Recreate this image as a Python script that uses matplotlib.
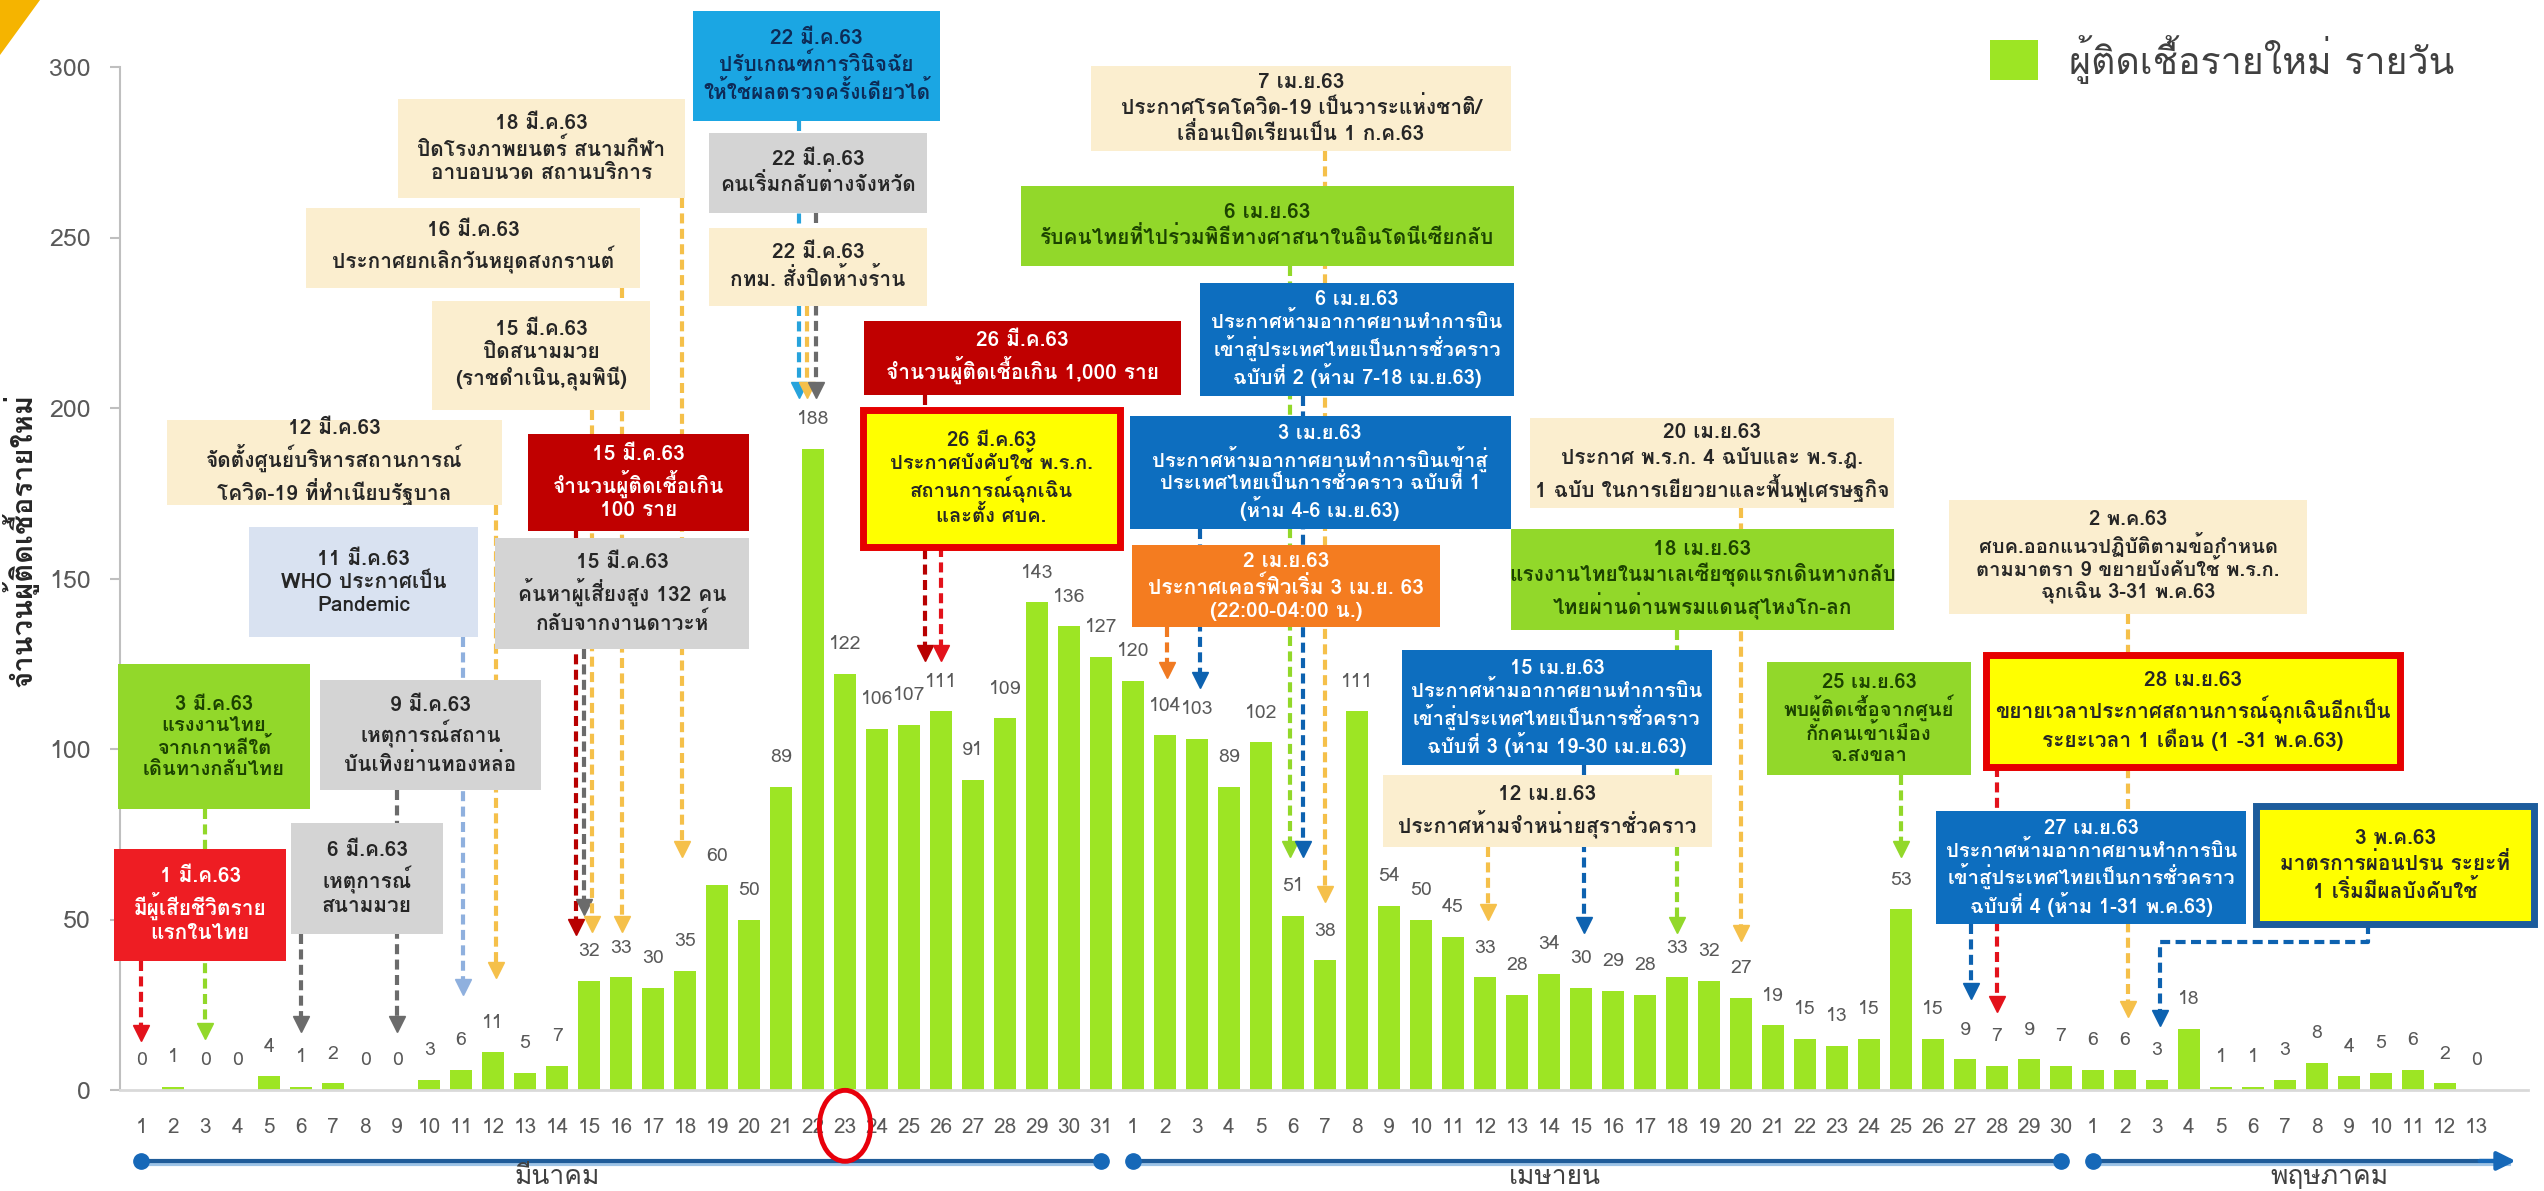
import matplotlib
matplotlib.use("Agg")
import matplotlib.pyplot as plt
from matplotlib import font_manager as fm
from matplotlib.patches import Rectangle, Ellipse, Polygon
from fontTools.ttLib import TTFont

# new cases per day, 1 Mar - 13 May 2020
mar_cases = [0, 1, 0, 0, 4, 1, 2, 0, 0, 3, 6, 11, 5, 7, 32, 33, 30, 35, 60, 50,
             89, 188, 122, 106, 107, 111, 91, 109, 143, 136, 127]
apr_cases = [120, 104, 103, 89, 102, 51, 38, 111, 54, 50, 45, 33, 28, 34, 30,
             29, 28, 33, 32, 27, 19, 15, 13, 15, 53, 15, 9, 7, 9, 7]
may_cases = [6, 6, 3, 18, 1, 1, 3, 8, 4, 5, 6, 2, 0]

months = ["มีนาคม", "เมษายน", "พฤษภาคม"]
legend_label = "ผู้ติดเชื้อรายใหม่ รายวัน"
y_label = "จำนวนผู้ติดเชื้อรายใหม่"
y_ticks = [0, 50, 100, 150, 200, 250, 300]

notes = [
    "1 มี.ค.63\nมีผู้เสียชีวิตราย\nแรกในไทย",
    "3 มี.ค.63\nแรงงานไทย\nจากเกาหลีใต้\nเดินทางกลับไทย",
    "6 มี.ค.63\nเหตุการณ์\nสนามมวย",
    "9 มี.ค.63\nเหตุการณ์สถาน\nบันเทิงย่านทองหล่อ",
    "11 มี.ค.63\nWHO ประกาศเป็น\nPandemic",
    "12 มี.ค.63\nจัดตั้งศูนย์บริหารสถานการณ์\nโควิด-19 ที่ทำเนียบรัฐบาล",
    "15 มี.ค.63\nจำนวนผู้ติดเชื้อเกิน\n100 ราย",
    "15 มี.ค.63\nค้นหาผู้เสี่ยงสูง 132 คน\nกลับจากงานดาวะห์",
    "15 มี.ค.63\nปิดสนามมวย\n(ราชดำเนิน,ลุมพินี)",
    "16 มี.ค.63\nประกาศยกเลิกวันหยุดสงกรานต์",
    "18 มี.ค.63\nปิดโรงภาพยนตร์ สนามกีฬา\nอาบอบนวด สถานบริการ",
    "22 มี.ค.63\nปรับเกณฑ์การวินิจฉัย\nให้ใช้ผลตรวจครั้งเดียวได้",
    "22 มี.ค.63\nคนเริ่มกลับต่างจังหวัด",
    "22 มี.ค.63\nกทม. สั่งปิดห้างร้าน",
    "26 มี.ค.63\nจำนวนผู้ติดเชื้อเกิน 1,000 ราย",
    "26 มี.ค.63\nประกาศบังคับใช้ พ.ร.ก.\nสถานการณ์ฉุกเฉิน\nและตั้ง ศบค.",
    "7 เม.ย.63\nประกาศโรคโควิด-19 เป็นวาระแห่งชาติ/\nเลื่อนเปิดเรียนเป็น 1 ก.ค.63",
    "6 เม.ย.63\nรับคนไทยที่ไปร่วมพิธีทางศาสนาในอินโดนีเซียกลับ",
    "6 เม.ย.63\nประกาศห้ามอากาศยานทำการบิน\nเข้าสู่ประเทศไทยเป็นการชั่วคราว\nฉบับที่ 2 (ห้าม 7-18 เม.ย.63)",
    "3 เม.ย.63\nประกาศห้ามอากาศยานทำการบินเข้าสู่\nประเทศไทยเป็นการชั่วคราว ฉบับที่ 1\n(ห้าม 4-6 เม.ย.63)",
    "2 เม.ย.63\nประกาศเคอร์ฟิวเริ่ม 3 เม.ย. 63\n(22:00-04:00 น.)",
    "20 เม.ย.63\nประกาศ พ.ร.ก. 4 ฉบับและ พ.ร.ฎ.\n1 ฉบับ ในการเยียวยาและฟื้นฟูเศรษฐกิจ",
    "18 เม.ย.63\nแรงงานไทยในมาเลเซียชุดแรกเดินทางกลับ\nไทยผ่านด่านพรมแดนสุไหงโก-ลก",
    "15 เม.ย.63\nประกาศห้ามอากาศยานทำการบิน\nเข้าสู่ประเทศไทยเป็นการชั่วคราว\nฉบับที่ 3 (ห้าม 19-30 เม.ย.63)",
    "12 เม.ย.63\nประกาศห้ามจำหน่ายสุราชั่วคราว",
    "25 เม.ย.63\nพบผู้ติดเชื้อจากศูนย์\nกักคนเข้าเมือง\nจ.สงขลา",
    "28 เม.ย.63\nขยายเวลาประกาศสถานการณ์ฉุกเฉินอีกเป็น\nระยะเวลา 1 เดือน (1 -31 พ.ค.63)",
    "2 พ.ค.63\nศบค.ออกแนวปฏิบัติตามข้อกำหนด\nตามมาตรา 9 ขยายบังคับใช้ พ.ร.ก.\nฉุกเฉิน 3-31 พ.ค.63",
    "27 เม.ย.63\nประกาศห้ามอากาศยานทำการบิน\nเข้าสู่ประเทศไทยเป็นการชั่วคราว\nฉบับที่ 4 (ห้าม 1-31 พ.ค.63)",
    "3 พ.ค.63\nมาตรการผ่อนปรน ระยะที่\n1 เริ่มมีผลบังคับใช้",
]

# box layout for each note: x0, x1, y0, y1, style
boxes = [
    (-0.84, 4.53, 37.8, 70.6, "red"),
    (-0.72, 5.28, 82.3, 124.8, "green"),
    (4.69, 9.44, 45.7, 78.2, "gray"),
    (5.59, 12.5, 87.9, 120.1, "gray"),
    (3.38, 10.53, 132.7, 165, "lblue"),
    (0.81, 11.28, 171.7, 196.6, "beige"),
    (12.1, 19.0, 163.8, 192.5, "dred"),
    (11.06, 19.0, 129.2, 162, "gray"),
    (9.1, 15.9, 199.5, 231.4, "beige"),
    (5.16, 15.6, 235.3, 258.7, "beige"),
    (8.03, 17.0, 261.6, 290.6, "beige"),
    (17.25, 24.97, 284.2, 316.4, "cyan"),
    (17.75, 24.56, 257.3, 280.7, "gray"),
    (17.75, 24.56, 230, 252.9, "beige"),
    (22.6, 32.5, 203.9, 225.6, "dred"),
    (22.56, 30.6, 159.1, 199.5, "yred"),
    (29.7, 42.8, 275.4, 300.3, "beige"),
    (27.5, 42.9, 241.7, 265.2, "green"),
    (33.1, 42.9, 203.6, 236.7, "blue"),
    (30.9, 42.8, 164.4, 197.8, "blue"),
    (30.97, 40.6, 135.7, 159.7, "orange"),
    (43.4, 54.8, 170.8, 197.2, "beige"),
    (42.8, 54.8, 134.8, 164.4, "green"),
    (39.4, 49.1, 95.2, 128.9, "blue"),
    (38.8, 49.1, 71.2, 92.3, "beige"),
    (50.8, 57.2, 92.3, 125.4, "green"),
    (57.65, 70.6, 94.6, 127.7, "yred"),
    (56.5, 67.7, 139.5, 172.9, "beige"),
    (56.1, 65.8, 48.6, 81.7, "blue"),
    (66.1, 74.8, 48.6, 83.2, "yblue"),
]

styles = {
    "beige": ("#fbeecf", None, "#262626"),
    "green": ("#92d82a", None, "#1c4300"),
    "gray": ("#d4d4d4", None, "#262626"),
    "lblue": ("#d9e2f1", None, "#262626"),
    "red": ("#ee1d23", None, "white"),
    "dred": ("#c00000", None, "white"),
    "cyan": ("#1ba6e3", None, "#0d2b57"),
    "blue": ("#0d6ebf", None, "white"),
    "orange": ("#f47c20", None, "white"),
    "yred": ("#ffff00", "#e60000", "#262626"),
    "yblue": ("#ffff00", "#1c5c9c", "#262626"),
}

# dashed pointers: x, y start, y tip, colour
pointers = [
    (0, 37.8, 14.4, "#e3121b"),
    (2, 82.3, 15, "#92d82a"),
    (5, 45.7, 17.3, "#6b6b6b"),
    (8, 87.9, 17.3, "#6b6b6b"),
    (10.06, 132.7, 28, "#8fb0de"),
    (11.1, 171.7, 33, "#f5c04a"),
    (13.6, 163.8, 45.7, "#b80000"),
    (13.85, 129.2, 51.6, "#6b6b6b"),
    (14.1, 199.5, 46.6, "#f5c04a"),
    (15.03, 235.3, 46.6, "#f5c04a"),
    (16.9, 261.6, 68.6, "#f5c04a"),
    (20.56, 284.2, 203, "#27a3dc"),
    (20.8, 230, 203, "#f5c04a"),
    (21.1, 257.3, 203, "#6b6b6b"),
    (24.5, 203.9, 126, "#b80000"),
    (25, 159.1, 126, "#e3121b"),
    (37.0, 275.4, 55.4, "#f5c04a"),
    (35.9, 241.7, 68.6, "#92d82a"),
    (36.3, 203.6, 68.6, "#0d62b0"),
    (33.1, 164.4, 118, "#0d62b0"),
    (32.06, 135.7, 121, "#f07a22"),
    (50, 170.8, 43.7, "#f5c04a"),
    (48, 134.8, 46.3, "#92d82a"),
    (45.1, 95.2, 46.3, "#0d62b0"),
    (42.1, 71.2, 50, "#f5c04a"),
    (55, 92.3, 68.6, "#92d82a"),
    (58, 94.6, 22.9, "#e3121b"),
    (62.1, 139.5, 21.7, "#f5c04a"),
    (57.2, 48.6, 26.7, "#0d62b0"),
]


def thai_family():
    found = []
    for f in fm.fontManager.ttflist:
        try:
            cmap = TTFont(f.fname, fontNumber=0, lazy=True).getBestCmap()
        except Exception:
            continue
        if cmap and 0x0E01 in cmap and 0x0E49 in cmap and 0x0031 in cmap:
            found.append(f.name)
    for pref in ["Tahoma", "Loma", "Noto Sans Thai Looped", "Noto Sans Thai", "Garuda", "Sarabun"]:
        if pref in found:
            return pref
    return found[0] if found else None


fam = thai_family()
plt.rcParams["font.family"] = [fam, "DejaVu Sans"] if fam else ["DejaVu Sans"]

cases = mar_cases + apr_cases + may_cases
labels = [str(d + 1) for d in range(len(mar_cases))] + \
         [str(d + 1) for d in range(len(apr_cases))] + \
         [str(d + 1) for d in range(len(may_cases))]
x = list(range(len(cases)))

fig = plt.figure(figsize=(25.44, 11.91), dpi=100)
ax = fig.add_axes([120 / 2544, 101 / 1191, (2528 - 120) / 2544, 1023 / 1191])
ax.bar(x, cases, width=0.68, color="#9de524", zorder=2)
for i, v in zip(x, cases):
    ax.text(i, v + 8.7, str(v), ha="center", va="center", fontsize=14, color="#595959", zorder=2)

ax.set_xlim(-0.66, 74.6)
ax.set_ylim(0, 300)
ax.set_yticks(y_ticks)
ax.set_xticks(x)
ax.set_xticklabels(labels)
for t in ax.get_xticklabels():
    t.set_va("center")
ax.tick_params(axis="x", length=0, pad=27, labelsize=15, labelcolor="#595959")
ax.tick_params(axis="y", length=7, width=1.5, color="#bfbfbf", pad=14, labelsize=18, labelcolor="#595959")
for s in ["top", "right"]:
    ax.spines[s].set_visible(False)
ax.spines["left"].set_color("#bfbfbf")
ax.spines["left"].set_linewidth(1.5)
ax.spines["bottom"].set_color("#d9d9d9")
ax.spines["bottom"].set_linewidth(2)

# dashed pointers from notes to bars
for px, y0, y1, c in pointers:
    ax.plot([px, px], [y0, y1 + 3], ls=(0, (2.4, 1.3)), color=c, lw=3, zorder=3, clip_on=False)
    ax.plot([px], [y1 + 2.2], marker="v", ms=11, color=c, mec=c, zorder=3, clip_on=False)
# elbow pointer for 3 May note
ax.plot([69.6, 69.6, 63.1, 63.1], [48.6, 43.4, 43.4, 21.8], ls=(0, (2.4, 1.3)), color="#0d62b0",
        lw=3, zorder=3, clip_on=False)
ax.plot([63.1], [18.8 + 2.2], marker="v", ms=11, color="#0d62b0", zorder=3, clip_on=False)

# note boxes
for txt, (x0, x1, y0, y1, st) in zip(notes, boxes):
    fc, ec, tc = styles[st]
    ax.add_patch(Rectangle((x0, y0), x1 - x0, y1 - y0, facecolor=fc,
                           edgecolor=ec if ec else "none", lw=5 if ec else 0,
                           zorder=4, clip_on=False))
    nl = txt.count("\n") + 1
    ax.text((x0 + x1) / 2, (y0 + y1) / 2, txt, ha="center", va="center",
            fontsize=15 if nl < 4 else 14.5, fontweight="bold", color=tc,
            linespacing=1.25 if nl < 4 else 1.12, zorder=5, clip_on=False)

# timeline under the days
n1, n2 = len(mar_cases), len(apr_cases)
ty = -20.8
segs = [(0, n1 - 1), (n1, n1 + n2 - 1), (n1 + n2, 74.0)]
for a, b in segs:
    ax.plot([a, b], [ty - 0.9, ty - 0.9], color="#9dc3e6", lw=3, zorder=3, clip_on=False)
    ax.plot([a, b], [ty, ty], color="#1f5c99", lw=3, zorder=3, clip_on=False)
ax.plot([0, n1 - 1, n1, n1 + n2 - 1, n1 + n2], [ty] * 5, ls="none", marker="o", ms=11,
        color="#1668b8", zorder=4, clip_on=False)
ax.annotate("", xy=(74.3, ty), xytext=(73.0, ty),
            arrowprops=dict(arrowstyle="-|>", color="#1668b8", lw=3, mutation_scale=28),
            annotation_clip=False)
for name, mx in zip(months, [13.0, 44.2, 68.4]):
    ax.text(mx, -27.6, name, ha="center", va="baseline", fontsize=19, color="#404040", clip_on=False)

# red circle around 23 Mar
ax.add_patch(Ellipse((22, -10.5), 1.6, 20.8, fill=False, edgecolor="#e8000b", lw=3.5,
                     zorder=5, clip_on=False))

# legend
fig.patches.append(Rectangle((1990 / 2544, 1 - 80 / 1191), 48 / 2544, 40 / 1191,
                             facecolor="#9de524", transform=fig.transFigure, figure=fig))
fig.text(2069 / 2544, 1 - 60 / 1191, legend_label, ha="left", va="center", fontsize=27, color="#404040")

fig.text(20 / 2544, 1 - 540 / 1191, y_label, rotation=90, ha="center", va="center",
         fontsize=21, fontweight="bold", color="#262626")

# corner decoration
fig.patches.append(Polygon([(0, 1), (40 / 2544, 1), (0, 1 - 55 / 1191)], closed=True,
                           facecolor="#f5b400", transform=fig.transFigure, figure=fig))

fig.savefig("out.png", dpi=100)
